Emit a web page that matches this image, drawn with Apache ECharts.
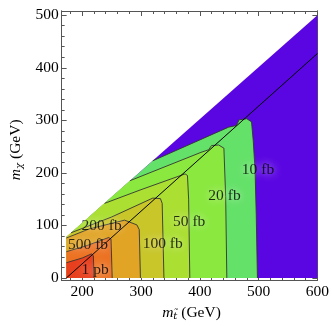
<!DOCTYPE html>
<html>
<head>
<meta charset="utf-8">
<script src="https://cdn.jsdelivr.net/npm/echarts@6/dist/echarts.min.js"></script>
<style>
  html, body { margin: 0; padding: 0; background: #fff; }
  #main { width: 332px; height: 326px; }
</style>
</head>
<body>
<div id="main"></div>
<script>
// contour levels of the cross section, highest first
const levels = ["1 pb", "500 fb", "200 fb", "100 fb", "50 fb", "20 fb", "10 fb"];

// each contour traced (m_stop, m_chi) from the upper/left edge of the region down to m_chi = 0
const contour1pb = [[173, 29], [200, 38], [216, 46], [219, 42], [220, 0]];
const contour500fb = [[173, 50], [209, 62], [245, 77], [249, 74], [251, 0]];
const contour200fb = [[173, 76], [211, 93], [272, 110], [293, 101], [297, 92], [299, 0]];
const contour100fb = [[181, 86], [250, 116], [320, 152], [333, 151], [336, 142], [339, 0]];
const contour50fb = [[238, 142], [300, 168], [375, 198], [379, 195], [381, 150], [383, 0]];
const contour20fb = [[281, 185], [402, 239], [415, 244], [420, 252], [432, 253], [441, 247], [444, 155], [446, 0]];
const contour10fb = [[320, 223], [449, 287], [462, 290], [467, 301], [480, 303], [488, 297], [491, 260], [494, 206], [496, 120], [498, 0]];
const contours = [contour1pb, contour500fb, contour200fb, contour100fb, contour50fb, contour20fb, contour10fb];

// region where the scan has points
const region = [[173, 0], [600, 0], [600, 500], [173, 78]];

// m_stop = m_top + m_chi
const topLine = [[173, 0], [600, 427]];

// where each contour label sits
const labelPos = [[222, 15], [210, 62], [233, 99], [337, 65], [382, 107], [442, 156], [499, 205]];

const xTicks = [200, 300, 400, 500, 600];
const yTicks = [0, 100, 200, 300, 400, 500];

// band colours: below 10 fb first, then each level up to above 1 pb
const bandColors = ["#5a06e2", "#64e168", "#8ae83e", "#abdf32", "#c8c628", "#e1a424", "#ec7222", "#e8401e"];

const xMinor = [];
for (let v = 180; v <= 600; v += 20) if (v % 100) xMinor.push(v);
const yMinor = [];
for (let v = 20; v <= 500; v += 20) if (v % 100) yMinor.push(v);

// filled area above each level = contour + corner(s) of the region
function bandPolygon(c) {
  const pts = c.slice();
  pts.push(region[0]);
  if (c[0][0] > region[3][0]) pts.push(region[3]);
  return pts;
}
const polys = [region].concat(contours.slice().reverse().map(bandPolygon));

const serif = "Liberation Serif";
const frameColor = "#555";

function makeAxis(pos, ticks, len, labels, extra) {
  return Object.assign({
    type: "value",
    position: pos,
    axisLine: { show: true, onZero: false, lineStyle: { color: frameColor, width: 1 } },
    axisTick: { show: true, inside: true, length: len, customValues: ticks, lineStyle: { color: frameColor, width: 1 } },
    axisLabel: labels
      ? { show: true, customValues: ticks, color: "#000", fontFamily: serif, fontSize: 15.5, margin: 3 }
      : { show: false },
    splitLine: { show: false },
  }, extra);
}

const xRange = { min: 165, max: 600 };
const yRange = { min: -5, max: 508 };
const nameRich = {
  i: { fontFamily: serif, fontStyle: "italic", fontSize: 15.5, color: "#000" },
  s: { fontFamily: "DejaVu Serif", fontStyle: "italic", fontSize: 10, color: "#000", padding: [7, 0, 0, 0] },
  n: { fontFamily: serif, fontSize: 15.5, color: "#000" },
};

const chart = echarts.init(document.getElementById("main"));
chart.setOption({
  animation: false,
  grid: { left: 45, right: 11, top: 11, bottom: 35 },
  xAxis: [
    makeAxis("bottom", xTicks, 5, true, Object.assign({
      name: "{i|m}{s|t\u0303}{n| (GeV)}",
      nameLocation: "middle",
      nameGap: 20,
      nameTextStyle: { rich: nameRich, padding: [0, 0, 0, 4] },
    }, xRange)),
    makeAxis("top", xTicks, 5, false, xRange),
    makeAxis("bottom", xMinor, 3, false, xRange),
    makeAxis("top", xMinor, 3, false, xRange),
  ],
  yAxis: [
    makeAxis("left", yTicks, 5, true, Object.assign({
      name: "{i|m}{s|\u03c7}{n| (GeV)}",
      nameLocation: "middle",
      nameRotate: 90,
      nameGap: 29,
      nameTextStyle: { rich: nameRich, padding: [0, 8, 0, 0] },
    }, yRange)),
    makeAxis("right", yTicks, 5, false, yRange),
    makeAxis("left", yMinor, 3, false, yRange),
    makeAxis("right", yMinor, 3, false, yRange),
  ],
  series: [
    {
      type: "custom",
      z: 1,
      silent: true,
      data: polys.map((p) => p[0]),
      renderItem: function (params, api) {
        const poly = polys[params.dataIndex];
        return {
          type: "polygon",
          shape: { points: poly.map((p) => api.coord(p)) },
          style: { fill: bandColors[params.dataIndex], stroke: null },
        };
      },
    },
    {
      type: "custom",
      z: 2,
      silent: true,
      data: contours.map((c) => c[0]),
      renderItem: function (params, api) {
        const c = contours[params.dataIndex];
        return {
          type: "polyline",
          shape: { points: c.map((p) => api.coord(p)) },
          style: { fill: null, stroke: "#333", lineWidth: 0.9 },
        };
      },
    },
    {
      type: "line",
      z: 3,
      silent: true,
      symbol: "none",
      data: topLine,
      lineStyle: { color: "#000", width: 1 },
    },
    {
      type: "scatter",
      z: 4,
      silent: true,
      symbolSize: 1,
      itemStyle: { color: "transparent" },
      data: labelPos,
      label: {
        show: true,
        position: "inside",
        formatter: (p) => levels[p.dataIndex],
        fontFamily: serif,
        fontSize: 15.5,
        color: "#000",
        textShadowColor: "#fff",
        textShadowBlur: 8,
      },
    },
  ],
});
</script>
</body>
</html>
